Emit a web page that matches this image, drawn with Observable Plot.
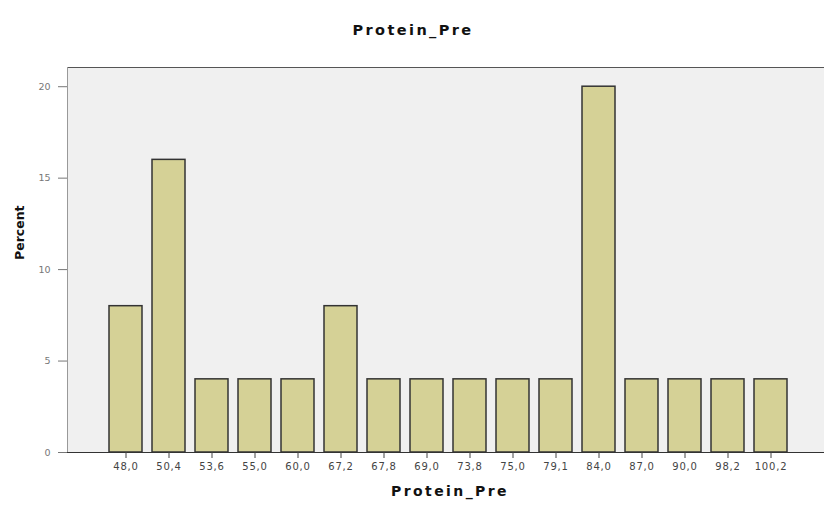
<!DOCTYPE html>
<html>
<head>
<meta charset="utf-8">
<script src="https://cdn.jsdelivr.net/npm/d3@7"></script>
<script src="https://cdn.jsdelivr.net/npm/@observablehq/plot@0.6"></script>
<style>
  html, body { margin: 0; padding: 0; background: #fff; }
  #chart svg { display: block; font-family: "DejaVu Sans", Verdana, sans-serif; }
  #chart svg g[aria-label="x-axis tick label"] text { letter-spacing: 0.8px; }
</style>
</head>
<body>
<div id="chart"></div>
<script>
const categories = ["48,0","50,4","53,6","55,0","60,0","67,2","67,8","69,0","73,8","75,0","79,1","84,0","87,0","90,0","98,2","100,2"];
const percents   = [8, 16, 4, 4, 4, 8, 4, 4, 4, 4, 4, 20, 4, 4, 4, 4];
const yTicks = [0, 5, 10, 15, 20];
const chartTitle = "Protein_Pre";
const xTitle = "Protein_Pre";
const yTitle = "Percent";

const data = categories.map((c, i) => ({cat: c, pct: percents[i]}));

const plot = Plot.plot({
  width: 824,
  height: 507,
  marginTop: 67,
  marginBottom: 55,
  marginLeft: 67,
  marginRight: 0,
  style: {fontFamily: "DejaVu Sans, Verdana, sans-serif", fontSize: "10px", background: "#fff"},
  x: {type: "band", domain: categories, range: [104, 792], paddingInner: 0.23, paddingOuter: 0.115},
  y: {domain: [0, 21.05]},
  marks: [
    Plot.frame({fill: "#f0f0f0", stroke: null}),
    Plot.ruleY([21.05], {stroke: "#555", strokeWidth: 1}),
    Plot.frame({anchor: "left", stroke: "#999"}),
    Plot.barY(data, {x: "cat", y: "pct", fill: "#d5d196", stroke: "#333", strokeWidth: 1.5}),
    Plot.ruleY([0], {stroke: "#333", strokeWidth: 1}),
    Plot.axisY({ticks: yTicks, tickSize: 9, tickPadding: 8, label: null, color: "#777", fontSize: 9.5}),
    Plot.axisX({tickSize: 6, tickPadding: 4, label: null, color: "#444", fontSize: 10}),
    Plot.text([chartTitle], {frameAnchor: "top-left", textAnchor: "start", dx: 285, dy: -43, fontWeight: "bold", fontSize: 14.5, fill: "#111"}),
    Plot.text([xTitle], {frameAnchor: "bottom", dx: 4, dy: 43, fontWeight: "bold", fontSize: 14, fill: "#111"}),
    Plot.text([yTitle], {frameAnchor: "left", dx: -48, rotate: -90, fontWeight: "bold", fontSize: 12.5, fill: "#111"})
  ]
});
plot.querySelectorAll('g[aria-label="text"] text').forEach(t => {
  const s = t.textContent;
  if (s === chartTitle || s === xTitle) t.style.letterSpacing = "2.4px";
});
document.getElementById("chart").appendChild(plot);
</script>
</body>
</html>
